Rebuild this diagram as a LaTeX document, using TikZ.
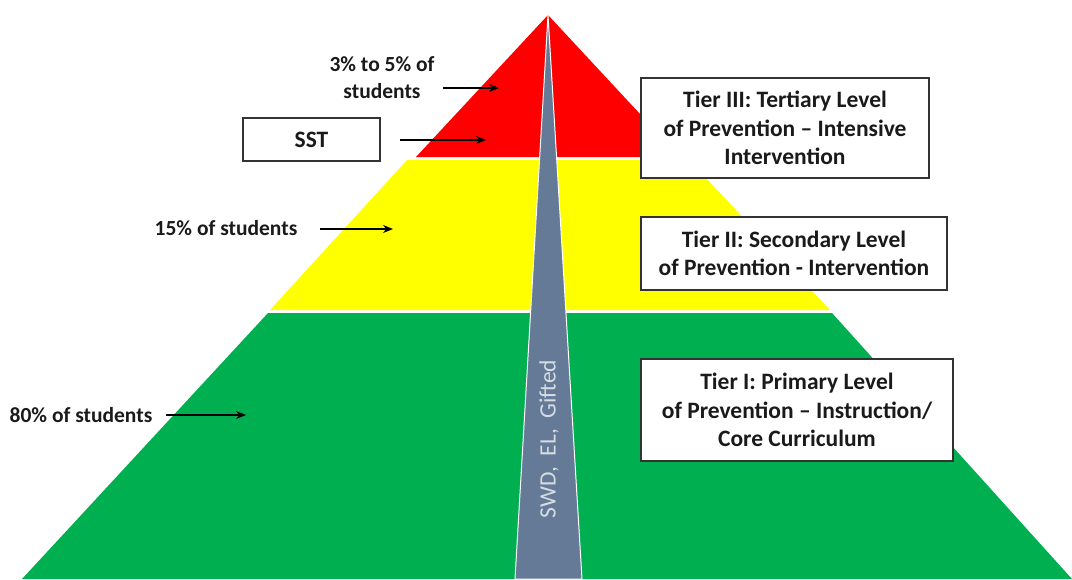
\documentclass[tikz,border=0pt]{standalone}
\usepackage{fontspec}
\setmainfont{Carlito}
\usetikzlibrary{arrows.meta}
\definecolor{tred}{HTML}{FF0000}
\definecolor{tyellow}{HTML}{FFFF00}
\definecolor{tgreen}{HTML}{00B050}
\definecolor{wedge}{HTML}{647A96}
\definecolor{wedgetext}{HTML}{D6DCE4}
\definecolor{boxline}{HTML}{333333}
\definecolor{txt}{HTML}{1A1A1A}
\begin{document}
\begin{tikzpicture}[x=1pt,y=-1pt,
  tierbox/.style={draw=boxline,line width=1.4pt,fill=white,inner sep=0pt,align=center,
     text=txt,font=\fontsize{23.5}{28.5}\selectfont\bfseries},
  lbl/.style={inner sep=0pt,align=center,text=txt,font=\fontsize{21.5}{27}\selectfont\bfseries},
  pointer/.style={-{Stealth[length=10pt,width=8pt]},line width=1.3pt,black}]
\useasboundingbox (0,0) rectangle (1072,579);
% tiers
\fill[tred] (548,15) -- (680,157) -- (416,157) -- cycle;
\fill[tyellow] (407,160) -- (689,160) -- (830,310) -- (270,310) -- cycle;
\fill[tgreen] (268,313) -- (832,313) -- (1072,579) -- (22,579) -- cycle;
% wedge
\draw[white,line width=1pt,fill=wedge] (548,15) -- (582,579) -- (515,579) -- cycle;
\node[rotate=90,text=wedgetext,inner sep=0pt,font=\fontsize{23.5}{28}\selectfont] (grp) at (549,439) {SWD,\ \ EL,\ \ Gifted};
% tier boxes
\node[tierbox,minimum width=288pt,minimum height=100pt] (t3) at (785,128) {Tier III: Tertiary Level\\of Prevention -- Intensive\\Intervention};
\node[tierbox,minimum width=306pt,minimum height=73pt] (t2) at (794,253.5) {Tier II: Secondary Level\\of Prevention - Intervention};
\node[tierbox,minimum width=312pt,minimum height=102pt] (t1) at (797,410) {Tier I: Primary Level\\of Prevention -- Instruction/\\Core Curriculum};
% left labels
\node[tierbox,minimum width=137pt,minimum height=43pt] (sst) at (311.5,139.5) {SST};
\node[lbl] (p3) at (382,78) {3\% to 5\% of\\students};
\node[lbl] (p2) at (226,228) {15\% of students};
\node[lbl] (p1) at (81,415) {80\% of students};
% pointer ends
\coordinate (p3s) at (443,88);
\coordinate (p3e) at (499,88);
\coordinate (ss) at (400,140);
\coordinate (se) at (486,140);
\coordinate (p2s) at (320,229);
\coordinate (p2e) at (393,229);
\coordinate (p1s) at (166,415);
\coordinate (p1e) at (246,415);
\draw[pointer] (p3s) -- (p3e);
\draw[pointer] (ss) -- (se);
\draw[pointer] (p2s) -- (p2e);
\draw[pointer] (p1s) -- (p1e);
\end{tikzpicture}
\end{document}
